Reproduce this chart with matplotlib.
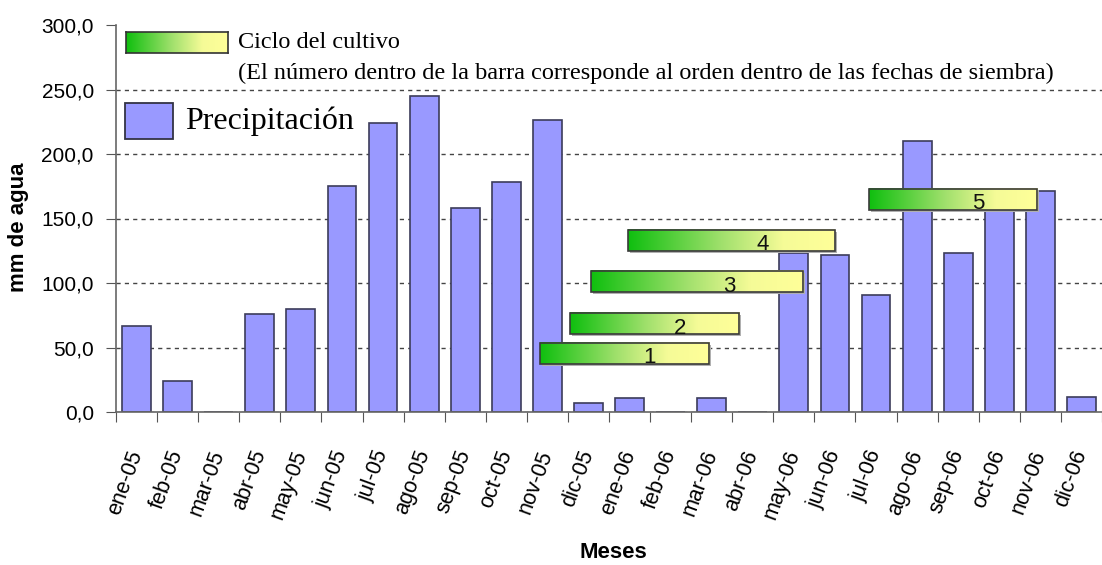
import numpy as np
import matplotlib
matplotlib.use('Agg')
import matplotlib.pyplot as plt
from matplotlib.colors import LinearSegmentedColormap
from matplotlib.patches import Rectangle

# datos
meses = ['ene-05', 'feb-05', 'mar-05', 'abr-05', 'may-05', 'jun-05', 'jul-05', 'ago-05',
         'sep-05', 'oct-05', 'nov-05', 'dic-05', 'ene-06', 'feb-06', 'mar-06', 'abr-06',
         'may-06', 'jun-06', 'jul-06', 'ago-06', 'sep-06', 'oct-06', 'nov-06', 'dic-06']
precipitacion = [67, 24, 0, 76, 80, 175, 224, 245, 158, 178, 226, 7,
                 11, 0, 11, 0, 123, 122, 91, 210, 123, 163, 171, 12]

# ciclos del cultivo (en meses desde ene-05) y nivel en el eje y
ciclo_num = ['1', '2', '3', '4', '5']
ciclo_inicio = [10.31, 11.04, 11.55, 12.47, 18.33]
ciclo_fin = [14.43, 15.16, 16.73, 17.50, 22.42]
ciclo_nivel = [45.4, 68.6, 101.0, 133.0, 165.0]

plt.rcParams['font.family'] = ['Liberation Sans', 'DejaVu Sans']

verde = LinearSegmentedColormap.from_list(
    'ciclo', [(0, '#0fbf0f'), (0.45, '#a0e06c'), (0.75, '#f5fb97'), (1, '#ffff99')])
grad = np.linspace(0, 1, 256).reshape(1, -1)

fig = plt.figure(figsize=(11.02, 5.65), dpi=100)
ax = fig.add_axes([116 / 1102, 153 / 565, 1 - 116 / 1102, 387 / 565])

x = np.arange(len(meses)) + 0.5
ax.bar(x, precipitacion, width=0.7, color='#9999ff', edgecolor='#3c3c5a',
       linewidth=1.2, zorder=2)

# barras de los ciclos con degradado
alto = 16.5
for n, x0, x1, yc in zip(ciclo_num, ciclo_inicio, ciclo_fin, ciclo_nivel):
    ax.add_patch(Rectangle((x0 + 0.05, yc - alto / 2 - 1.5), x1 - x0, alto,
                           facecolor='#b0b0b0', edgecolor='none', zorder=3))
    ax.imshow(grad, extent=[x0, x1, yc - alto / 2, yc + alto / 2], aspect='auto',
              cmap=verde, zorder=4, interpolation='bilinear')
    ax.add_patch(Rectangle((x0, yc - alto / 2), x1 - x0, alto, facecolor='none',
                           edgecolor='#3a3a3a', linewidth=1.2, zorder=5))
    ax.text(x0 + 0.65 * (x1 - x0), yc - 3.5, n, fontsize=16, ha='center', va='center',
            color='#111111', zorder=6)

ax.set_xlim(0, (1102 - 116) / 41.3)
ax.set_ylim(0, 300)
ax.set_yticks(np.arange(0, 301, 50))
ax.set_yticklabels([f'{v:.1f}'.replace('.', ',') for v in np.arange(0, 301, 50)],
                   fontsize=15)
ax.set_xticks(np.arange(len(meses) + 1))
ax.set_xticklabels([])
ax.set_xticks(x, minor=True)
ax.set_xticklabels(meses, minor=True, rotation=70, ha='right', va='center',
                   rotation_mode='anchor', fontsize=15.5)
ax.tick_params(axis='x', which='minor', length=0, pad=28)
ax.tick_params(axis='x', which='major', length=7, color='#555555', direction='out')
ax.tick_params(axis='y', length=7, color='#555555', pad=9)

ax.yaxis.grid(True, linestyle=(0, (3, 3)), color='#444444', linewidth=1)
ax.get_ygridlines()[-1].set_visible(False)
ax.set_axisbelow(True)
for s in ['top', 'right']:
    ax.spines[s].set_visible(False)
for s in ['left', 'bottom']:
    ax.spines[s].set_color('#666666')
    ax.spines[s].set_linewidth(1.2)

ax.set_ylabel('mm de agua', fontsize=16, fontweight='bold')
ax.yaxis.set_label_coords(-0.088, 0.478)
fig.text(613 / 1102, 1 - 553 / 565, 'Meses', fontsize=16, fontweight='bold',
         ha='center', va='center')

# leyenda
lg = fig.add_axes([126 / 1102, 1 - 53 / 565, 102 / 1102, 21 / 565])
lg.imshow(grad, aspect='auto', cmap=verde, interpolation='bilinear')
lg.set_xticks([])
lg.set_yticks([])
for s in lg.spines.values():
    s.set_color('#333333')
    s.set_linewidth(1.2)
fig.text(238 / 1102, 1 - 43 / 565, 'Ciclo del cultivo', fontsize=17.5,
         family='Liberation Serif', va='center')
fig.text(238 / 1102, 1 - 73 / 565,
         '(El número dentro de la barra corresponde al orden dentro de las fechas de siembra)',
         fontsize=17.5, family='Liberation Serif', va='center')
fig.patches.append(Rectangle((125 / 1102, 1 - 139 / 565), 48 / 1102, 36 / 565,
                             transform=fig.transFigure, facecolor='#9999ff',
                             edgecolor='#333344', linewidth=1.3))
fig.text(185 / 1102, 1 - 121 / 565, 'Precipitación', fontsize=23,
         family='Liberation Serif', va='center')

fig.savefig('out.png', dpi=100)
